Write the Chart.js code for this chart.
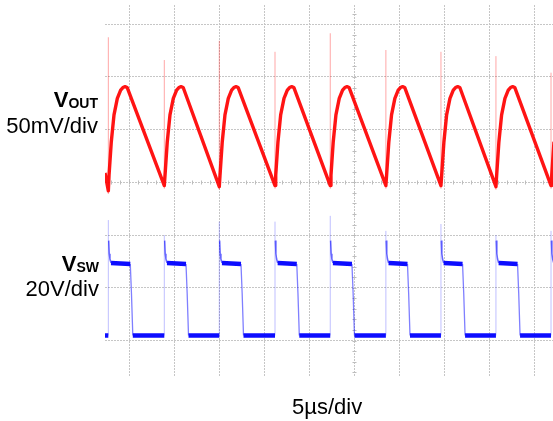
<!DOCTYPE html>
<html><head><meta charset="utf-8">
<script src="https://cdn.jsdelivr.net/npm/chart.js@4"></script>
<style>
html,body{margin:0;padding:0;background:#fff;}
#wrap{position:relative;width:553px;height:421px;overflow:hidden;}
canvas{position:absolute;left:0;top:0;}
.lbl{position:absolute;font-family:"Liberation Sans",Arial,sans-serif;color:#000;line-height:22px;font-size:22px;white-space:nowrap;}
.sub{font-size:14px;vertical-align:-1px;}
</style></head><body>
<div id="wrap">
<canvas id="c" width="553" height="421"></canvas>
<div class="lbl" style="right:455px;top:89px;font-weight:bold">V<span class="sub">OUT</span></div>
<div class="lbl" style="right:455px;top:115px">50mV/div</div>
<div class="lbl" style="right:454px;top:253px;font-weight:bold">V<span class="sub">SW</span></div>
<div class="lbl" style="right:454px;top:278px">20V/div</div>
<div class="lbl" style="left:292px;top:396px">5µs/div</div>
</div>
<script>
// ---- axis ranges / grid (time in µs, Vout in mV, Vsw in V) ----
const xRangeUs = [-27.7, 22.08];
const yRangeMV = [-184.6, 168.3];
const y2RangeV = [-15.75, 125.4];
const xGridUs = [-25, -20, -15, -10, -5, 0, 5, 10, 15, 20];
const yGridMV = [-150, -100, -50, 0, 50, 100, 150];

// ---- switching events (µs) ----
const riseUs = [-27.33, -21.11, -15.0, -8.81, -2.67, 3.51, 9.63, 15.74, 21.86];
const fallUs = [-24.81, -18.62, -12.51, -6.31, -0.18, 5.99, 12.11, 18.22];

// ---- VOUT ripple (mV) ----
const voutStart = {x: -27.7, y: 9};
const voutMinMV = [-8, -3, -4, -3, -3, -3, -3, -4, -3];
const voutRiseOffsetUs = [0.08, 0.33, 0.63, 1.0, 1.37, 1.62, 1.86, 2.1];
const voutRiseMV = [7, 38.6, 64, 79.7, 87.6, 90, 90.8, 90];
const voutSpikeMV = [137.7, 116.1, 134.4, 123.9, 141.5, 125.6, 123.9, 119.8, 104.1];

// ---- VSW (V) ----
const vswHighV = 27.5;
const vswLowV = 0;
const vswSpikeV = [43.8, 38.1, 43.2, 43.2, 45.4, 39.7, 42.3, 38.1, 39.7];
const vswRingOffsetUs = [0.04, 0.1, 0.18, 0.3];
const vswRingV = [36, 31, 29, 27.5];

// ---- build traces ----
const voutMain = [voutStart];
const voutSpikes = [];
riseUs.forEach((t, i) => {
  voutMain.push({x: t, y: voutMinMV[i]});
  voutRiseOffsetUs.forEach((o, k) => voutMain.push({x: t + o, y: voutRiseMV[k]}));
  voutSpikes.push({x: t, y: voutMinMV[i] - 3}, {x: t, y: voutSpikeMV[i]}, {x: t, y: null});
});

const vswLevels = [{x: xRangeUs[0], y: vswLowV}, {x: riseUs[0], y: vswLowV}, {x: riseUs[0], y: null}];
const vswUp = [], vswRing = [], vswDown = [];
riseUs.forEach((r, i) => {
  vswUp.push({x: r, y: vswLowV}, {x: r, y: vswSpikeV[i]}, {x: r, y: null});
  vswRingOffsetUs.forEach((o, k) => vswRing.push({x: r + o, y: vswRingV[k]}));
  vswRing.push({x: r, y: null});
  const f = fallUs[i];
  if (f !== undefined) {
    vswLevels.push({x: r + 0.3, y: vswHighV}, {x: f - 0.08, y: vswHighV - 0.4}, {x: f, y: null});
    vswDown.push({x: f - 0.08, y: vswHighV - 0.4}, {x: f + 0.05, y: 16}, {x: f + 0.2, y: vswLowV}, {x: f, y: null});
    const nr = riseUs[i + 1];
    vswLevels.push({x: f + 0.2, y: vswLowV}, {x: nr, y: vswLowV}, {x: nr, y: null});
  } else {
    vswLevels.push({x: r + 0.3, y: vswHighV}, {x: xRangeUs[1] + 1, y: vswHighV}, {x: r, y: null});
  }
});

const gridCol = '#c6c6c6';
const minorTicks = {
  id: 'minorTicks',
  beforeDatasetsDraw(chart) {
    const {ctx, scales: {x, y}} = chart;
    ctx.save();
    ctx.strokeStyle = '#bdbdbd';
    ctx.lineWidth = 1;
    const y0 = Math.round(y.getPixelForValue(0)) + 0.5;
    const x0 = Math.round(x.getPixelForValue(0)) + 0.5;
    ctx.beginPath();
    for (let v = Math.ceil(x.min); v <= x.max; v += 1) {
      const px = Math.round(x.getPixelForValue(v)) + 0.5;
      ctx.moveTo(px, y0 - 2); ctx.lineTo(px, y0 + 2);
    }
    for (let v = Math.ceil(y.min / 10) * 10; v <= y.max; v += 10) {
      const py = Math.round(y.getPixelForValue(v)) + 0.5;
      ctx.moveTo(x0 - 2, py); ctx.lineTo(x0 + 2, py);
    }
    ctx.stroke();
    ctx.restore();
  }
};

const axisBase = (range, ticks) => ({
  type: 'linear', min: range[0], max: range[1],
  ticks: {display: false},
  grid: {color: gridCol, drawTicks: false, lineWidth: 1},
  border: {display: false, dash: [2, 1]},
  afterBuildTicks: a => { a.ticks = ticks.map(v => ({value: v})); }
});

new Chart(document.getElementById('c'), {
  type: 'line',
  data: {
    datasets: [
      {label: 'VOUT', data: voutMain, yAxisID: 'y', borderColor: 'rgba(255,0,0,0.92)', borderWidth: 3.4, pointRadius: 0, tension: 0, clip: 0, borderJoinStyle: 'round'},
      {label: 'VSW level', data: vswLevels, yAxisID: 'y2', borderColor: 'rgba(0,0,255,0.95)', borderWidth: 4.5, pointRadius: 0, spanGaps: false, clip: 0},
      {label: 'VSW ring', data: vswRing, yAxisID: 'y2', borderColor: 'rgba(0,0,255,0.6)', borderWidth: 1.5, pointRadius: 0, spanGaps: false, clip: 0},
      {label: 'VSW fall', data: vswDown, yAxisID: 'y2', borderColor: 'rgba(0,0,255,0.5)', borderWidth: 1.3, pointRadius: 0, spanGaps: false, clip: 0},
      {label: 'VSW rise', data: vswUp, yAxisID: 'y2', borderColor: 'rgba(0,0,255,0.25)', borderWidth: 1, pointRadius: 0, spanGaps: false, clip: 0},
      {label: 'VOUT spike', data: voutSpikes, yAxisID: 'y', borderColor: 'rgba(255,0,0,0.35)', borderWidth: 1, pointRadius: 0, spanGaps: false, clip: 0}
    ]
  },
  options: {
    responsive: false, animation: false, events: [],
    layout: {padding: {left: 105, right: 0, top: 5, bottom: 44}},
    plugins: {legend: {display: false}, tooltip: {enabled: false}},
    scales: {
      x: axisBase(xRangeUs, xGridUs),
      y: axisBase(yRangeMV, yGridMV),
      y2: {type: 'linear', display: false, min: y2RangeV[0], max: y2RangeV[1]}
    }
  },
  plugins: [minorTicks]
});
</script>
</body></html>
